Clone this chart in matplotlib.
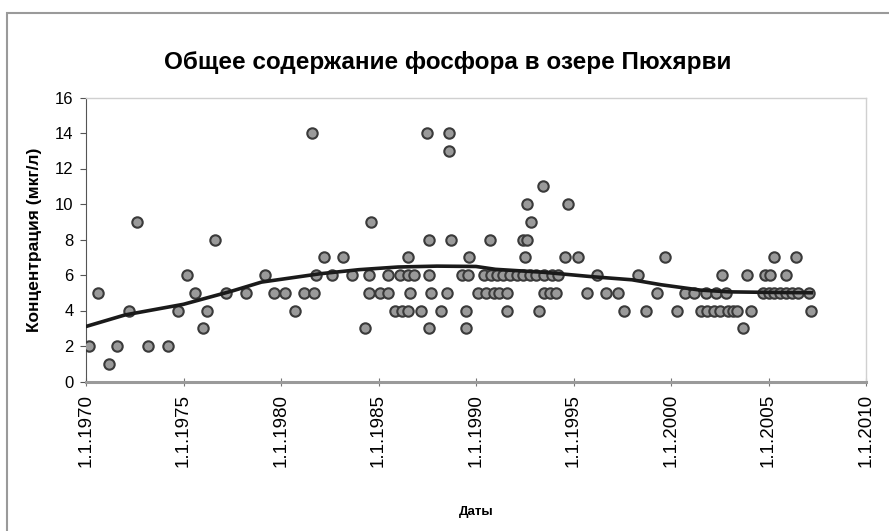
import numpy as np
import matplotlib
matplotlib.use("Agg")
import matplotlib.pyplot as plt
from matplotlib.patches import Rectangle

plt.rcParams['font.family'] = ['Liberation Sans', 'DejaVu Sans']

# measurements: decimal year of sampling and total phosphorus (mkg/l)
years = [
    1970.15, 1970.6, 1971.2, 1971.6, 1972.2, 1972.6, 1973.2, 1974.2, 1974.7,
    1975.2, 1975.6, 1976.0, 1976.2, 1976.6, 1977.2, 1978.2, 1979.2, 1979.65,
    1980.2, 1980.7, 1981.2, 1981.6, 1981.7, 1981.8, 1982.2, 1982.6, 1983.2,
    1983.65, 1984.3, 1984.5, 1984.5, 1984.6, 1985.1, 1985.5, 1985.5, 1985.85,
    1986.1, 1986.5, 1986.8, 1987.6, 1989.3, 1989.6,
    1990.4, 1990.75, 1991.1, 1991.4, 1991.75, 1992.1, 1992.4, 1992.75, 1993.1, 1993.5,
    1986.6, 1987.7, 1988.5, 1990.1, 1990.5, 1990.9, 1991.2, 1991.6, 1993.5,
    1986.2, 1986.5, 1987.2, 1988.2, 1989.5, 1991.6, 1993.25,
    1987.6, 1989.5,
    1986.5, 1989.65, 1992.5,
    1987.6, 1988.7, 1990.7, 1992.4, 1992.6,
    1992.8, 1992.6, 1993.45, 1988.6, 1987.5, 1988.6,
    1994.7, 1994.55, 1995.25, 1993.9, 1994.2, 1993.8, 1994.1,
    1996.2, 1995.7, 1996.65, 1997.3, 1997.6, 1998.3, 1998.7, 1999.3, 1999.7,
    2000.3, 2000.7, 2001.2, 2001.55,
    2005.3, 2006.4,
    2002.6, 2003.9, 2004.8, 2005.1, 2005.9,
    2001.8, 2002.3, 2002.8, 2004.7, 2005.0, 2005.3, 2005.6, 2005.9, 2006.2,
    2006.5, 2007.1,
    2001.85, 2002.2, 2002.5, 2002.9, 2003.2, 2003.4, 2004.1, 2007.2,
    2003.7,
]
values = [
    2, 5, 1, 2, 4, 9, 2, 2, 4,
    6, 5, 3, 4, 8, 5, 5, 6, 5,
    5, 4, 5, 14, 5, 6, 7, 6, 7,
    6, 3, 6, 5, 9, 5, 5, 6, 4,
    6, 6, 6, 6, 6, 6,
    6, 6, 6, 6, 6, 6, 6, 6, 6, 6,
    5, 5, 5, 5, 5, 5, 5, 5, 5,
    4, 4, 4, 4, 4, 4, 4,
    3, 3,
    7, 7, 7,
    8, 8, 8, 8, 8,
    9, 10, 11, 13, 14, 14,
    10, 7, 7, 6, 6, 5, 5,
    6, 5, 5, 5, 4, 6, 4, 5, 7,
    4, 5, 5, 4,
    7, 7,
    6, 6, 6, 6, 6,
    5, 5, 5, 5, 5, 5, 5, 5, 5,
    5, 5,
    4, 4, 4, 4, 4, 4, 4, 4,
    3,
]

# smoothed trend curve
trend_years = [1970, 1972, 1975, 1977.5, 1979, 1982, 1984, 1986, 1988, 1990,
               1991, 1993.5, 1996, 1998, 1999.5, 2001.5, 2003, 2005, 2007.2]
trend_values = [3.1, 3.75, 4.35, 5.1, 5.6, 6.07, 6.3, 6.45, 6.5, 6.48,
                6.32, 6.15, 5.9, 5.73, 5.45, 5.15, 5.05, 5.02, 5.0]

tick_years = [1970, 1975, 1980, 1985, 1990, 1995, 2000, 2005, 2010]
tick_labels = [f"1.1.{y}" for y in tick_years]

fig = plt.figure(figsize=(8.89, 5.31), dpi=100)
fig.patches.append(Rectangle((7 / 889, -0.1), 1.2, 1 - 13 / 531 + 0.1,
                             transform=fig.transFigure, fill=False,
                             edgecolor="#9a9a9a", linewidth=1.5))

ax = fig.add_axes([86 / 889, 1 - 381.5 / 531, 780 / 889, 284 / 531])

ax.scatter(years, values, s=56, facecolor="#9a9a9a", edgecolor="#3a3a3a",
           linewidth=1.5, zorder=3)
ax.plot(trend_years, trend_values, color="#1a1a1a", linewidth=2.6, zorder=4)

ax.set_xlim(1970, 2010)
ax.set_ylim(0, 16)
ax.set_yticks(range(0, 17, 2))
ax.set_xticks(tick_years)
ax.set_xticklabels(tick_labels, rotation=90, fontsize=13.5)
ax.tick_params(axis="y", direction="out", length=4, labelsize=12,
               color="#555555", pad=5)
ax.tick_params(axis="x", direction="inout", length=6, color="#777777", pad=6)

for side in ("top", "right"):
    ax.spines[side].set_color("#d0d0d0")
    ax.spines[side].set_linewidth(1.0)
ax.spines["left"].set_color("#555555")
ax.spines["bottom"].set_color("#9a9a9a")
ax.spines["bottom"].set_linewidth(2.2)

ax.set_ylabel("Концентрация (мкг/л)", fontsize=12.5, fontweight="bold", labelpad=9)
ax.set_xlabel("Даты", fontsize=9.5, fontweight="bold", labelpad=28)
fig.text(448 / 889, 1 - 62 / 531, "Общее содержание фосфора в озере Пюхярви",
         ha="center", va="center", fontsize=17.5, fontweight="bold")

fig.savefig("out.png", dpi=100)
